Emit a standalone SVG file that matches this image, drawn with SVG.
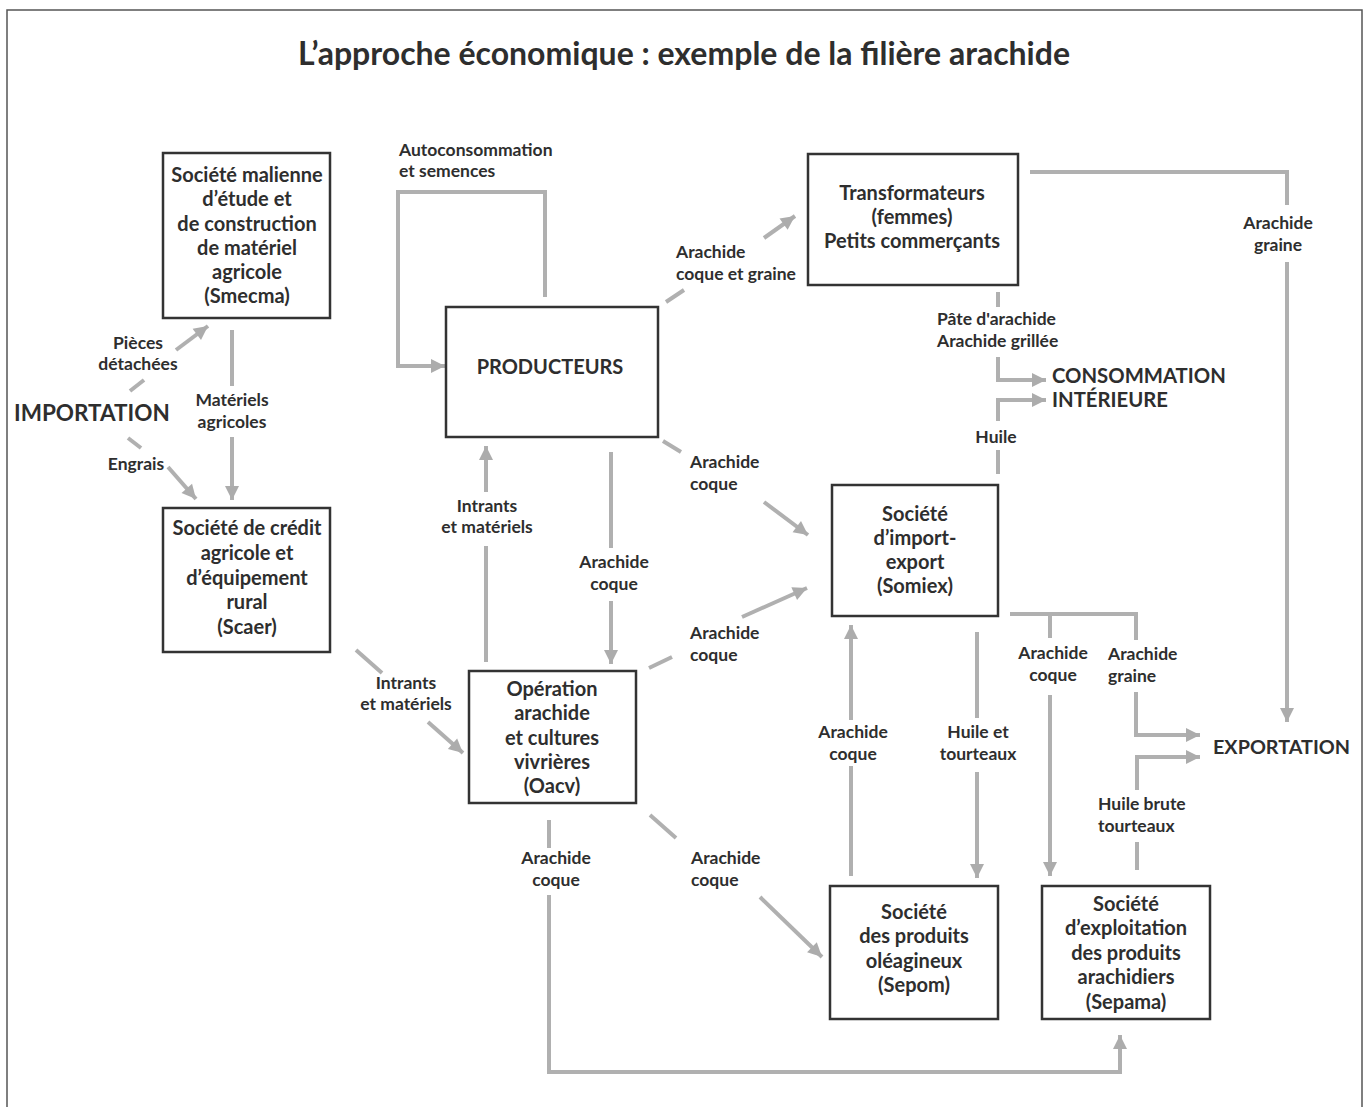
<svg xmlns="http://www.w3.org/2000/svg" width="1370" height="1107" viewBox="0 0 1370 1107">
<defs>
<marker id="ah" markerUnits="userSpaceOnUse" markerWidth="16" markerHeight="16" refX="15" refY="8" orient="auto">
<path d="M1,1 L15,8 L1,15 Z" fill="#acacac"/>
</marker>
<style>
.c{fill:none;stroke:#b0b0b0;stroke-width:4}
.a{marker-end:url(#ah)}
.box{fill:#fff;stroke:#333;stroke-width:2.5}
.t{font-family:Lato,"Open Sans","DejaVu Sans",sans-serif;font-weight:700;fill:#2e2e2e}
.n{font-size:20px;text-anchor:middle}
.l{font-size:17.5px}
.m{text-anchor:middle}
</style>
</defs>
<rect x="7" y="10" width="1355" height="1115" fill="#fff" stroke="#555" stroke-width="1.5"/>
<text class="t" x="684" y="65" font-size="32" text-anchor="middle">L’approche économique : exemple de la filière arachide</text>

<g id="connectors">
<path class="c a" d="M545,297 V192 H398 V366 H445"/>
<path class="c" d="M130,391 L144,380"/><path class="c a" d="M176,350 L208,326"/>
<path class="c" d="M232,330 V386"/><path class="c a" d="M232,437 V500"/>
<path class="c" d="M128,438 L141,448"/><path class="c a" d="M168,467 L196,499"/>
<path class="c" d="M356,650 L382,673"/><path class="c a" d="M428,722 L463,753"/>
<path class="c" d="M486,662 V546"/><path class="c a" d="M486,492 V446"/>
<path class="c" d="M611,452 V548"/><path class="c a" d="M611,601 V664"/>
<path class="c" d="M666,302 L684,290"/><path class="c a" d="M764,238 L795,216"/>
<path class="c" d="M663,441 L681,452"/><path class="c a" d="M764,502 L808,535"/>
<path class="c" d="M649,668 L672,657"/><path class="c a" d="M742,617 L807,588"/>
<path class="c" d="M650,815 L676,838"/><path class="c a" d="M760,897 L822,957"/>
<path class="c" d="M549,820 V848"/><path class="c a" d="M549,895 V1072 H1120 V1035"/>
<path class="c" d="M1030,172 H1287 V205"/><path class="c a" d="M1287,262 V722"/>
<path class="c" d="M998,292 V307"/><path class="c a" d="M998,357 V380 H1046"/>
<path class="c" d="M998,474 V450"/><path class="c a" d="M998,421 V400 H1046"/>
<path class="c" d="M851,876 V766"/><path class="c a" d="M851,720 V625"/>
<path class="c" d="M977,632 V718"/><path class="c a" d="M977,772 V878"/>
<path class="c" d="M1010,614 H1136 V640"/><path class="c a" d="M1136,692 V735 H1200"/>
<path class="c" d="M1050,614 V638"/><path class="c a" d="M1050,695 V876"/>
<path class="c" d="M1137,870 V842"/><path class="c a" d="M1137,790 V757 H1200"/>
</g>

<g id="smecma">
<rect class="box" x="163" y="153" width="167" height="165"/>
<text class="t n" x="247" y="182">Société malienne</text>
<text class="t n" x="247" y="206">d’étude et</text>
<text class="t n" x="247" y="231">de construction</text>
<text class="t n" x="247" y="255">de matériel</text>
<text class="t n" x="247" y="279">agricole</text>
<text class="t n" x="247" y="303">(Smecma)</text>
</g>
<g id="scaer">
<rect class="box" x="163" y="508" width="167" height="144"/>
<text class="t n" x="247" y="535">Société de crédit</text>
<text class="t n" x="247" y="560">agricole et</text>
<text class="t n" x="247" y="585">d’équipement</text>
<text class="t n" x="247" y="609">rural</text>
<text class="t n" x="247" y="634">(Scaer)</text>
</g>
<g id="producteurs">
<rect class="box" x="446" y="307" width="212" height="130"/>
<text class="t n" x="550" y="374">PRODUCTEURS</text>
</g>
<g id="oacv">
<rect class="box" x="469" y="671" width="167" height="132"/>
<text class="t n" x="552" y="696">Opération</text>
<text class="t n" x="552" y="720">arachide</text>
<text class="t n" x="552" y="745">et cultures</text>
<text class="t n" x="552" y="769">vivrières</text>
<text class="t n" x="552" y="793">(Oacv)</text>
</g>
<g id="transformateurs">
<rect class="box" x="808" y="154" width="210" height="131"/>
<text class="t n" x="912" y="200">Transformateurs</text>
<text class="t n" x="912" y="224">(femmes)</text>
<text class="t n" x="912" y="248">Petits commerçants</text>
</g>
<g id="somiex">
<rect class="box" x="832" y="485" width="166" height="131"/>
<text class="t n" x="915" y="521">Société</text>
<text class="t n" x="915" y="545">d’import-</text>
<text class="t n" x="915" y="569">export</text>
<text class="t n" x="915" y="593">(Somiex)</text>
</g>
<g id="sepom">
<rect class="box" x="830" y="886" width="168" height="133"/>
<text class="t n" x="914" y="919">Société</text>
<text class="t n" x="914" y="943">des produits</text>
<text class="t n" x="914" y="968">oléagineux</text>
<text class="t n" x="914" y="992">(Sepom)</text>
</g>
<g id="sepama">
<rect class="box" x="1042" y="886" width="168" height="133"/>
<text class="t n" x="1126" y="911">Société</text>
<text class="t n" x="1126" y="935">d’exploitation</text>
<text class="t n" x="1126" y="960">des produits</text>
<text class="t n" x="1126" y="984">arachidiers</text>
<text class="t n" x="1126" y="1009">(Sepama)</text>
</g>
<g id="importation"><text class="t" x="14" y="421" font-size="22.5">IMPORTATION</text></g>
<g id="consommation">
<text class="t" x="1052" y="383" font-size="20.3">CONSOMMATION</text>
<text class="t" x="1052" y="407" font-size="20.3">INTÉRIEURE</text>
</g>
<g id="exportation"><text class="t" x="1213" y="754" font-size="19.8">EXPORTATION</text></g>

<g id="labels">
<text class="t l" x="399" y="156">Autoconsommation</text>
<text class="t l" x="399" y="177">et semences</text>
<text class="t l m" x="138" y="349">Pièces</text>
<text class="t l m" x="138" y="370">détachées</text>
<text class="t l m" x="232" y="406">Matériels</text>
<text class="t l m" x="232" y="428">agricoles</text>
<text class="t l m" x="136" y="470">Engrais</text>
<text class="t l m" x="487" y="512">Intrants</text>
<text class="t l m" x="487" y="533">et matériels</text>
<text class="t l m" x="614" y="568">Arachide</text>
<text class="t l m" x="614" y="590">coque</text>
<text class="t l" x="676" y="258">Arachide</text>
<text class="t l" x="676" y="280">coque et graine</text>
<text class="t l" x="690" y="468">Arachide</text>
<text class="t l" x="690" y="490">coque</text>
<text class="t l" x="690" y="639">Arachide</text>
<text class="t l" x="690" y="661">coque</text>
<text class="t l m" x="406" y="689">Intrants</text>
<text class="t l m" x="406" y="710">et matériels</text>
<text class="t l m" x="556" y="864">Arachide</text>
<text class="t l m" x="556" y="886">coque</text>
<text class="t l" x="691" y="864">Arachide</text>
<text class="t l" x="691" y="886">coque</text>
<text class="t l" x="937" y="325">Pâte d'arachide</text>
<text class="t l" x="937" y="347">Arachide grillée</text>
<text class="t l m" x="996" y="443">Huile</text>
<text class="t l m" x="1278" y="229">Arachide</text>
<text class="t l m" x="1278" y="251">graine</text>
<text class="t l m" x="853" y="738">Arachide</text>
<text class="t l m" x="853" y="760">coque</text>
<text class="t l m" x="978" y="738">Huile et</text>
<text class="t l m" x="978" y="760">tourteaux</text>
<text class="t l m" x="1053" y="659">Arachide</text>
<text class="t l m" x="1053" y="681">coque</text>
<text class="t l" x="1108" y="660">Arachide</text>
<text class="t l" x="1108" y="682">graine</text>
<text class="t l" x="1098" y="810">Huile brute</text>
<text class="t l" x="1098" y="832">tourteaux</text>
</g>
</svg>
